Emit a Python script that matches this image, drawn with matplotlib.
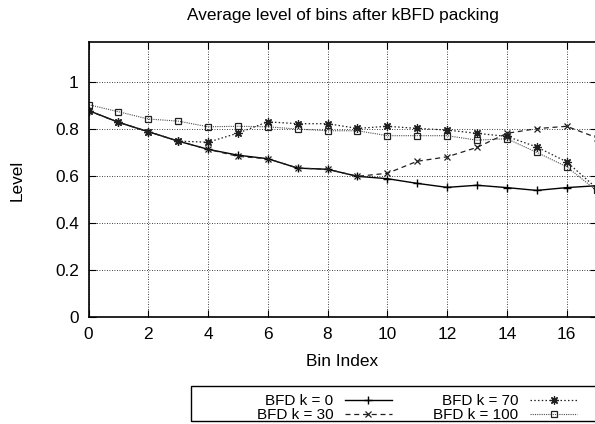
import numpy as np
import matplotlib
matplotlib.use("Agg")
import matplotlib.pyplot as plt
from matplotlib.patches import Rectangle

plt.rcParams['font.family'] = ['Liberation Sans', 'DejaVu Sans']

# values
bins = np.arange(18)
k0 = [0.88, 0.83, 0.79, 0.75, 0.715, 0.69, 0.675, 0.635, 0.63, 0.60, 0.59, 0.57,
      0.553, 0.562, 0.552, 0.54, 0.552, 0.56]
k30 = [0.88, 0.83, 0.79, 0.75, 0.715, 0.685, 0.675, 0.635, 0.63, 0.60, 0.613, 0.664,
       0.683, 0.723, 0.783, 0.803, 0.813, 0.765]
k70 = [0.88, 0.83, 0.79, 0.75, 0.745, 0.784, 0.832, 0.824, 0.824, 0.804, 0.813, 0.804,
       0.797, 0.783, 0.77, 0.725, 0.662, 0.55]
k100 = [0.905, 0.875, 0.844, 0.835, 0.811, 0.813, 0.811, 0.801, 0.794, 0.794, 0.773, 0.773,
        0.773, 0.754, 0.76, 0.702, 0.641, 0.54]
labels = ["BFD k = 0", "BFD k = 30", "BFD k = 70", "BFD k = 100"]

W, H = 595, 424
fig = plt.figure(figsize=(W / 100, H / 100), dpi=100)
# axes placed in pixels: x from 88.5 to 596.5, y from 317.3 (bottom) to 41.7 (top)
ax = fig.add_axes([88.5 / W, (H - 317.3) / H, (596.5 - 88.5) / W, (317.3 - 41.7) / H])

fs = 12.4
l0, = ax.plot(bins, k0, color='black', lw=1.0, marker='+', ms=6, mew=1.0)
l30, = ax.plot(bins, k30, color='#202020', lw=0.9, ls=(0, (4, 3)), marker='x', ms=4.5, mew=0.9)
l70, = ax.plot(bins, k70, color='#202020', lw=0.9, ls=(0, (1.2, 1.8)), marker=(8, 2, 0), ms=6, mew=0.9)
l100, = ax.plot(bins, k100, color='#505050', lw=0.8, ls=(0, (1, 1)), marker='s', ms=5,
                mfc='none', mec='#202020', mew=0.9)

ax.set_xlim(0, 17)
ax.set_ylim(0, 1.173)
ax.set_xticks(np.arange(0, 17, 2))
ax.set_yticks([0, 0.2, 0.4, 0.6, 0.8, 1])
ax.set_yticklabels(["0", "0.2", "0.4", "0.6", "0.8", "1"])
ax.tick_params(direction='in', length=5, width=0.8, top=True, right=True,
               labelsize=fs, pad=7)
ax.grid(True, color='black', ls=(0, (1, 2)), lw=0.6)
for s in ax.spines.values():
    s.set_linewidth(1.2)

fig.text(343 / W, 1 - 15.5 / H, "Average level of bins after kBFD packing",
         ha='center', va='center', fontsize=fs)
fig.text(342 / W, 1 - 361.7 / H, "Bin Index", ha='center', va='center', fontsize=fs)
fig.text(17.5 / W, 1 - 180 / H, "Level", ha='center', va='center', rotation=90, fontsize=fs)

# legend frame like gnuplot's key box
fig.patches.append(Rectangle((190.7 / W, (H - 421) / H), (620 - 190.7) / W, 35 / H,
                             transform=fig.transFigure, fill=False, ec='black', lw=1.0))
lfs = 11.0
leg = fig.legend([l0, l30, l70, l100], labels, ncol=2, markerfirst=False, frameon=False,
                 loc='upper right', bbox_to_anchor=(585 / W, 1 - 386.5 / H),
                 borderpad=0, handlelength=3.1, handletextpad=0.75, columnspacing=2.7,
                 labelspacing=0.0, fontsize=lfs, numpoints=1)

fig.savefig("out.png", dpi=100)
